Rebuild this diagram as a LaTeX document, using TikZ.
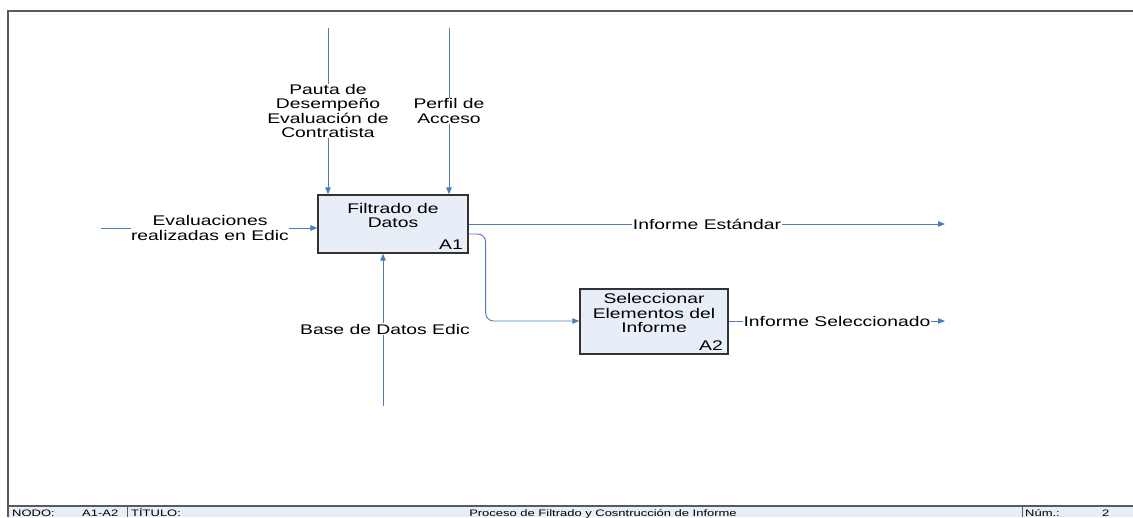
\documentclass[tikz,border=0pt]{standalone}
\usepackage{fontspec}
\setmainfont{Liberation Sans}[FakeStretch=1.38]
\usetikzlibrary{arrows.meta}
\definecolor{flow}{HTML}{4A7EBB}
\definecolor{boxfill}{HTML}{E8EEF8}
\definecolor{framegray}{HTML}{5A5A5A}
\tikzset{
  x=1pt, y=-1pt,
  flowline/.style={draw=flow, line width=0.9pt},
  flowarrow/.style={flowline, -{Triangle[length=7pt,width=5.5pt]}},
  actbox/.style={draw=black!80, line width=1.3pt, fill=boxfill, inner sep=0pt},
  lbl/.style={font=\fontsize{14}{14.5}\selectfont, align=center, fill=white, inner sep=0.5pt},
  boxtxt/.style={font=\fontsize{14}{14.4}\selectfont, align=center, inner sep=0pt},
  boxid/.style={font=\fontsize{14}{14}\selectfont, inner sep=0pt, anchor=base east},
  foot/.style={font=\fontsize{9.4}{10}\selectfont, inner sep=0pt, anchor=base west},
}
\begin{document}
\begin{tikzpicture}
\useasboundingbox (0,0) rectangle (1133,517);

% sheet frame and title bar
\fill[boxfill] (8,506) rectangle (1133,517);
\draw[framegray, line width=1.5pt] (8,517) -- (8,11) -- (1133,11);
\draw[framegray, line width=1.2pt] (8,506) -- (1133,506);
\draw[framegray, line width=1pt] (127,506) -- (127,517);
\draw[framegray, line width=1pt] (1022,506) -- (1022,517);
\node[foot] (fnodo) at (12,516.5) {NODO:};
\node[foot] (fnum) at (82,516.5) {A1-A2};
\node[foot] (ftit) at (131,516.5) {TÍTULO:};
\node[foot, anchor=base] (ftitle) at (603,516.5) {Proceso de Filtrado y Cosntrucción de Informe};
\node[foot] (fn) at (1025,516.5) {Núm.:};
\node[foot] (fnv) at (1102,516.5) {2};

% activity boxes
\node[actbox, minimum width=150pt, minimum height=58pt] (a1) at (393,224) {};
\node[boxtxt, anchor=north] (a1t) at (393,203) {Filtrado de\\Datos};
\node[boxid] (a1id) at (463,249) {A1};
\node[actbox, minimum width=148pt, minimum height=65pt] (a2) at (654,321.5) {};
\node[boxtxt, anchor=north] (a2t) at (654,293.5) {Seleccionar\\Elementos del\\Informe};
\node[boxid] (a2id) at (723,350) {A2};

% free ends of the boundary arrows
\coordinate (c1) at (328,28);
\coordinate (c2) at (449,28);
\coordinate (in1) at (101,228);
\coordinate (m1) at (383,406);
\coordinate (o1) at (945,224);
\coordinate (o2) at (945,321);

% controls
\draw[flowarrow] (c1) -- (c1 |- a1.north);
\draw[flowarrow] (c2) -- (c2 |- a1.north);
% input
\draw[flowarrow] (in1) -- (in1 -| a1.west);
% mechanism
\draw[flowarrow] (m1) -- (m1 |- a1.south);
% outputs
\draw[flowarrow] (a1.east |- o1) -- (o1);
\draw[flowarrow, rounded corners=8pt] ([yshift=-10pt]a1.east) -- ++(17,0) |- (a2.west |- o2);
\draw[flowarrow] (a2.east |- o2) -- (o2);

% arrow labels
\node[lbl] (lc1) at (328,111) {Pauta de\\Desempeño\\Evaluación de\\Contratista};
\node[lbl] (lc2) at (449,111) {Perfil de\\Acceso};
\node[lbl] (lin) at (210,228) {Evaluaciones\\realizadas en Edic};
\node[lbl] (lm) at (385,329) {Base de Datos Edic};
\node[lbl] (lo1) at (707,224) {Informe Estándar};
\node[lbl] (lo2) at (837,321.5) {Informe Seleccionado};
\end{tikzpicture}
\end{document}
